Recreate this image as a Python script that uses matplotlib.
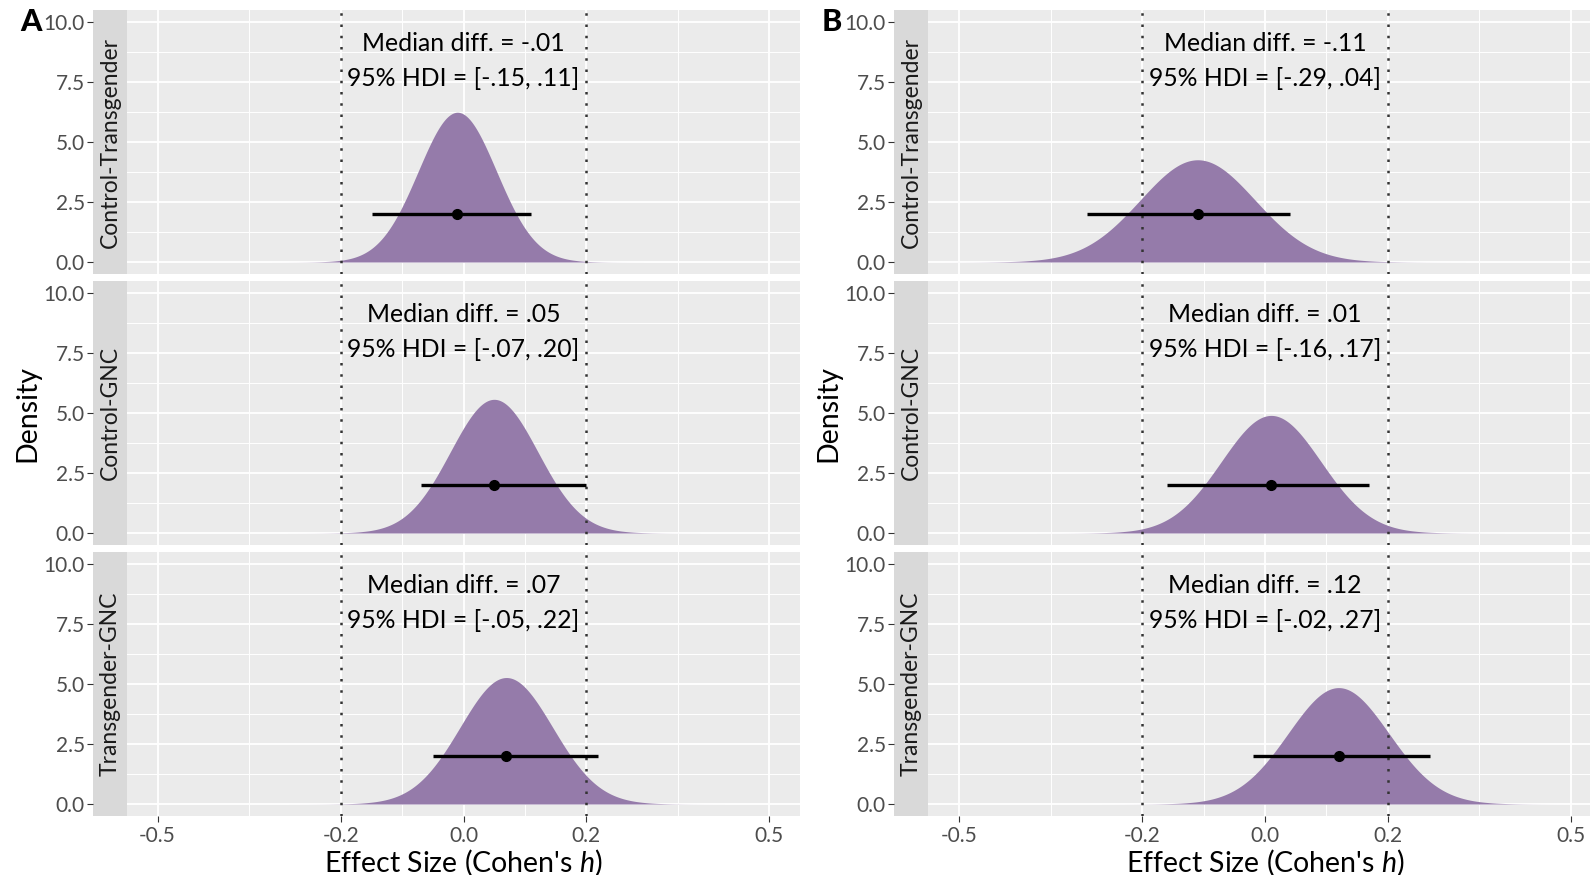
import numpy as np
import matplotlib
matplotlib.use("Agg")
from matplotlib import pyplot as plt
from matplotlib.ticker import MultipleLocator

plt.rcParams['font.family'] = ['Lato', 'DejaVu Sans']
plt.rcParams['mathtext.fontset'] = 'custom'
plt.rcParams['mathtext.rm'] = 'Lato'
plt.rcParams['mathtext.it'] = 'Lato:italic'

# values
facets = ['Control-Transgender', 'Control-GNC', 'Transgender-GNC']
median_A = [-0.01, 0.05, 0.07]
hdi_lo_A = [-0.15, -0.07, -0.05]
hdi_hi_A = [0.11, 0.20, 0.22]
peak_A = [6.24, 5.57, 5.27]
median_B = [-0.11, 0.01, 0.12]
hdi_lo_B = [-0.29, -0.16, -0.02]
hdi_hi_B = [0.04, 0.17, 0.27]
peak_B = [4.26, 4.90, 4.85]
rope = [-0.2, 0.2]
xticks = [-0.5, -0.2, 0.0, 0.2, 0.5]
xtick_labels = ['-0.5', '-0.2', '0.0', '0.2', '0.5']
yticks = [0, 2.5, 5, 7.5, 10]
ytick_labels = ['0.0', '2.5', '5.0', '7.5', '10.0']

W, H = 1590, 875
fig = plt.figure(figsize=(W / 100, H / 100), dpi=100)

fill_col = '#957BAA'
panel_bg = '#EBEBEB'
strip_bg = '#D9D9D9'
tick_col = '#4D4D4D'


def fmt(v):
    s = '%.2f' % v
    return s.replace('0.', '.')


def draw_panel(strip_x0, px0, px1, medians, los, his, peaks, letter):
    tops = [10, 281, 552]
    h = 264
    for i in range(3):
        y0 = H - tops[i] - h
        ax = fig.add_axes([px0 / W, y0 / H, (px1 - px0) / W, h / H])
        sax = fig.add_axes([strip_x0 / W, y0 / H, (px0 - strip_x0) / W, h / H])
        ax.set_facecolor(panel_bg)
        ax.set_xlim(-0.55, 0.55)
        ax.set_ylim(-0.5, 10.5)
        ax.xaxis.set_major_locator(plt.FixedLocator(xticks))
        ax.xaxis.set_minor_locator(plt.FixedLocator([-0.35, -0.1, 0.1, 0.35]))
        ax.yaxis.set_major_locator(plt.FixedLocator(yticks))
        ax.yaxis.set_minor_locator(MultipleLocator(1.25))
        ax.grid(which='major', color='white', lw=1.3)
        ax.grid(which='minor', color='white', lw=0.7)
        ax.set_axisbelow(True)
        for sp in ax.spines.values():
            sp.set_visible(False)
        ax.tick_params(axis='y', which='both', left=False, labelleft=False)
        ax.tick_params(axis='x', which='minor', bottom=False)
        if i == 2:
            ax.set_xticklabels(xtick_labels)
            ax.tick_params(axis='x', which='major', length=4, color='#333333',
                           labelsize=15, labelcolor=tick_col, pad=3)
            ax.set_xlabel("Effect Size (Cohen's $\\it{h}$)", fontsize=20.5, labelpad=1)
        else:
            ax.tick_params(axis='x', which='major', bottom=False, labelbottom=False)

        # posterior density
        sd = 1.0 / (peaks[i] * np.sqrt(2 * np.pi))
        xs = np.linspace(-0.55, 0.55, 600)
        ys = peaks[i] * np.exp(-0.5 * ((xs - medians[i]) / sd) ** 2)
        ax.fill_between(xs, 0, ys, color=fill_col, lw=0, zorder=2)
        for r in rope:
            ax.axvline(r, color='#333333', ls=(0, (1, 3.5)), lw=1.8, zorder=3)
        ax.plot([los[i], his[i]], [2, 2], color='black', lw=2.4, solid_capstyle='butt', zorder=4)
        ax.plot([medians[i]], [2], 'o', color='black', ms=7, zorder=5)
        ax.text(0, 9.1, 'Median diff. = %s' % fmt(medians[i]), ha='center', va='center',
                fontsize=17.8, color='black', zorder=6)
        ax.text(0, 7.65, '95%% HDI = [%s, %s]' % (fmt(los[i]), fmt(his[i])), ha='center',
                va='center', fontsize=17.8, color='black', zorder=6)

        sax.set_facecolor(strip_bg)
        sax.set_ylim(-0.5, 10.5)
        for sp in sax.spines.values():
            sp.set_visible(False)
        sax.set_xticks([])
        sax.set_yticks(yticks)
        sax.set_yticklabels(ytick_labels)
        sax.tick_params(axis='y', length=4, color='#333333', labelsize=15,
                        labelcolor=tick_col, pad=2)
        sax.text(0.5, 0.5, facets[i], rotation=90, ha='center', va='center',
                 transform=sax.transAxes, fontsize=16.5, color='#1A1A1A')
        if i == 1:
            sax.set_ylabel('Density', fontsize=20.5, labelpad=2)
    fig.text((strip_x0 - 62) / W, 1 - 22 / H, letter, fontsize=22, fontweight='black',
             ha='center', va='center')


draw_panel(93, 127, 800, median_A, hdi_lo_A, hdi_hi_A, peak_A, 'A')
draw_panel(894, 928, 1602, median_B, hdi_lo_B, hdi_hi_B, peak_B, 'B')

fig.savefig('out.png', dpi=100)
